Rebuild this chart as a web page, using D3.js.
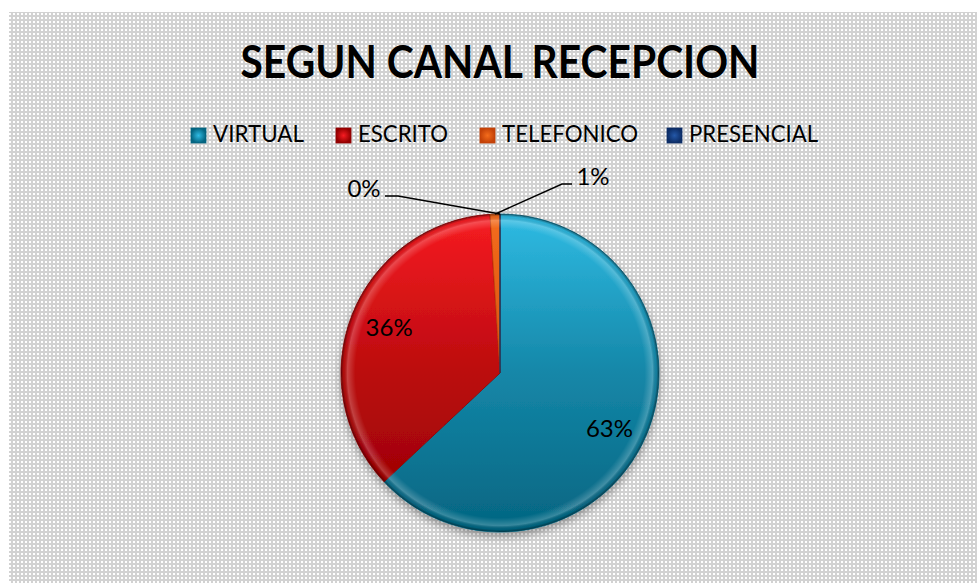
<!DOCTYPE html>
<html>
<head>
<meta charset="utf-8">
<script src="https://cdn.jsdelivr.net/npm/d3@7"></script>
<style>
  html, body { margin: 0; padding: 0; background: #ffffff; }
  svg { display: block; font-family: Lato, "Open Sans", sans-serif; }
</style>
</head>
<body>
<div id="chart"></div>
<script>
const width = 977
const height = 583

// data
const categories = ["VIRTUAL", "ESCRITO", "TELEFONICO", "PRESENCIAL"]
const values = [63, 36, 1, 0]
const title = "SEGUN CANAL RECEPCION"

// colours (top / bottom of the slice gradient)
const topColors = ["#2fbbe3", "#f71c22", "#f46c1c", "#2458a8"]
const bottomColors = ["#046581", "#930000", "#c44208", "#0d2d66"]

const cx = 500, cy = 373, radius = 159

const svg = d3.select("#chart")
    .append("svg")
    .attr("width", width)
    .attr("height", height)

const defs = svg.append("defs")

// grainy background
const pattern = defs.append("pattern")
    .attr("id", "weave")
    .attr("width", 4)
    .attr("height", 4)
    .attr("patternUnits", "userSpaceOnUse")
pattern.append("rect").attr("width", 4).attr("height", 4).attr("fill", "#d2d2d2")
pattern.append("rect").attr("x", 1).attr("y", 1).attr("width", 2).attr("height", 2).attr("fill", "#ffffff")

svg.append("rect")
    .attr("x", 9)
    .attr("y", 12)
    .attr("width", width - 9)
    .attr("height", height - 12)
    .attr("fill", "url(#weave)")

// slice gradients (in the pie group's own coordinates, centre at 0,0)
categories.forEach((c, i) => {
    const g = defs.append("linearGradient")
        .attr("id", "grad-" + i)
        .attr("gradientUnits", "userSpaceOnUse")
        .attr("x1", 0).attr("x2", 0)
        .attr("y1", -radius).attr("y2", radius)
    g.append("stop").attr("offset", "0%").attr("stop-color", topColors[i])
    g.append("stop").attr("offset", "50%").attr("stop-color", d3.interpolateRgb(topColors[i], bottomColors[i])(0.6))
    g.append("stop").attr("offset", "100%").attr("stop-color", bottomColors[i])

    const lg = defs.append("radialGradient")
        .attr("id", "legend-grad-" + i)
    lg.append("stop").attr("offset", "0%").attr("stop-color", topColors[i])
    lg.append("stop").attr("offset", "100%").attr("stop-color", bottomColors[i])
})

// bevel rim
const rim = defs.append("radialGradient")
    .attr("id", "rim")
    .attr("gradientUnits", "userSpaceOnUse")
    .attr("cx", 0).attr("cy", 0).attr("r", radius)
rim.append("stop").attr("offset", "0%").attr("stop-color", "#fff").attr("stop-opacity", 0)
rim.append("stop").attr("offset", "91%").attr("stop-color", "#fff").attr("stop-opacity", 0)
rim.append("stop").attr("offset", "96%").attr("stop-color", "#fff").attr("stop-opacity", 0.22)
rim.append("stop").attr("offset", "98.3%").attr("stop-color", "#000").attr("stop-opacity", 0.05)
rim.append("stop").attr("offset", "100%").attr("stop-color", "#000").attr("stop-opacity", 0.45)

const shadow = defs.append("filter")
    .attr("id", "shadow")
    .attr("x", "-20%").attr("y", "-20%")
    .attr("width", "140%").attr("height", "140%")
shadow.append("feDropShadow")
    .attr("dx", 0).attr("dy", 4)
    .attr("stdDeviation", 4)
    .attr("flood-color", "#000")
    .attr("flood-opacity", 0.35)

// title
svg.append("text")
    .attr("x", cx)
    .attr("y", 78)
    .attr("text-anchor", "middle")
    .attr("font-size", 45)
    .attr("font-weight", "bold")
    .attr("textLength", 519)
    .attr("lengthAdjust", "spacingAndGlyphs")
    .attr("fill", "#000")
    .text(title)

// legend
const legendX = [191, 336, 480, 667]
const legendTextWidth = [91, 90, 136, 129]
const legend = svg.append("g").attr("class", "legend")
categories.forEach((c, i) => {
    legend.append("rect")
        .attr("x", legendX[i])
        .attr("y", 128)
        .attr("width", 15)
        .attr("height", 15)
        .attr("fill", `url(#legend-grad-${i})`)
        .attr("stroke", bottomColors[i])
        .attr("stroke-width", 0.8)
    legend.append("text")
        .attr("x", legendX[i] + 22)
        .attr("y", 142)
        .attr("font-size", 24)
        .attr("textLength", legendTextWidth[i])
        .attr("lengthAdjust", "spacingAndGlyphs")
        .attr("fill", "#000")
        .text(c)
})

// pie
const total = d3.sum(values)
const pie = d3.pie().sort(null).value(d => d)
const arcs = pie(values)
const arc = d3.arc().innerRadius(0).outerRadius(radius)

const pieG = svg.append("g")
    .attr("transform", `translate(${cx},${cy})`)

pieG.append("g")
    .attr("filter", "url(#shadow)")
    .selectAll("path")
    .data(arcs)
    .join("path")
    .attr("d", arc)
    .attr("fill", (d, i) => `url(#grad-${i})`)
    .attr("stroke", (d, i) => bottomColors[i])
    .attr("stroke-width", 0.8)
    .attr("stroke-linejoin", "round")

pieG.append("circle")
    .attr("r", radius)
    .attr("fill", "url(#rim)")

const pct = v => Math.round(v / total * 100) + "%"

// labels inside the big slices
const labelArc = d3.arc().innerRadius(radius * 0.75).outerRadius(radius * 0.75)
const insideShift = [[0, 17], [0, 7]]
arcs.slice(0, 2).forEach((d, i) => {
    const [x, y] = labelArc.centroid(d)
    pieG.append("text")
        .attr("x", x + insideShift[i][0])
        .attr("y", y + insideShift[i][1])
        .attr("text-anchor", "middle")
        .attr("font-size", 24)
        .attr("fill", "#000")
        .text(pct(d.value))
})

// labels outside with leader lines for the small slices
const outside = [
    { i: 2, elbow: [562, 184], end: [572, 184], text: [593, 185] },
    { i: 3, elbow: [398, 196], end: [385, 196], text: [364, 197] }
]
outside.forEach(o => {
    const d = arcs[o.i]
    const a = (d.startAngle + d.endAngle) / 2
    const sx = cx + Math.sin(a) * radius
    const sy = cy - Math.cos(a) * radius
    svg.append("polyline")
        .attr("points", [[sx, sy], o.elbow, o.end].map(p => p.join(",")).join(" "))
        .attr("fill", "none")
        .attr("stroke", "#000")
        .attr("stroke-width", 1.5)
    svg.append("text")
        .attr("x", o.text[0])
        .attr("y", o.text[1])
        .attr("text-anchor", "middle")
        .attr("font-size", 24)
        .attr("fill", "#000")
        .text(pct(d.value))
})
</script>
</body>
</html>
